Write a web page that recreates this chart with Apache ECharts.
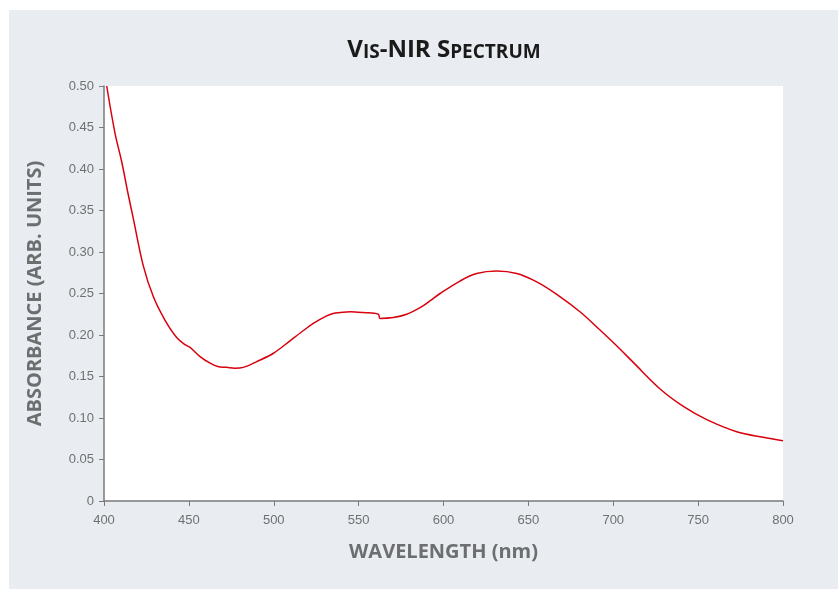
<!DOCTYPE html>
<html>
<head>
<meta charset="utf-8">
<script src="https://cdn.jsdelivr.net/npm/echarts@6/dist/echarts.min.js"></script>
<style>
  html, body { margin: 0; padding: 0; background: #ffffff; }
  #chart { width: 838px; height: 589px; }
</style>
</head>
<body>
<div id="chart"></div>
<script>
// Vis-NIR absorption spectrum (wavelength in nm, absorbance in arbitrary units)
const wavelengths = [
  401.6, 406.5, 410.4, 414.3, 417.3, 423.2, 429.1, 435.9, 442.8, 448.0,
  450.7, 456.6, 462.5, 467.0, 472.3, 477.0, 482.1, 490.0, 499.8, 509.6,
  516.0, 523.3, 531.2, 535.0, 539.0, 545.0, 552.8, 561.6, 562.6, 570.4,
  578.3, 586.2, 592.0, 598.0, 609.7, 619.5, 631.3, 643.1, 654.9, 666.7,
  680.4, 692.2, 702.0, 711.8, 727.6, 741.3, 755.1, 772.7, 788.4, 800.0
];
const absorbance = [
  0.500, 0.443, 0.409, 0.369, 0.340, 0.283, 0.246, 0.218, 0.197, 0.188,
  0.185, 0.174, 0.166, 0.162, 0.161, 0.160, 0.161, 0.168, 0.178, 0.193,
  0.203, 0.214, 0.223, 0.226, 0.227, 0.228, 0.227, 0.225, 0.220, 0.221,
  0.225, 0.233, 0.241, 0.250, 0.265, 0.274, 0.277, 0.274, 0.264, 0.249,
  0.228, 0.206, 0.187, 0.167, 0.135, 0.114, 0.098, 0.0835, 0.0767, 0.0725
];
const yTicks = ['0', '0.05', '0.10', '0.15', '0.20', '0.25', '0.30', '0.35', '0.40', '0.45', '0.50'];

const chart = echarts.init(document.getElementById('chart'), null, { renderer: 'canvas' });

const axisGray = '#7a7a7a';
const labelGray = '#6d6e70';
const nameFont = 'Open Sans';

chart.setOption({
  backgroundColor: '#ffffff',
  animation: false,
  graphic: [{
    type: 'rect',
    z: -10,
    silent: true,
    shape: { x: 9, y: 10, width: 829, height: 579 },
    style: { fill: '#e9edf1' }
  }, {
    type: 'text',
    silent: true,
    x: 444,
    y: 50,
    style: {
      text: '{c|V}{s|IS}{c|-NIR S}{s|PECTRUM}',
      align: 'center',
      verticalAlign: 'middle',
      rich: {
        c: { fontFamily: nameFont, fontWeight: 'bold', fontSize: 24, fill: '#1a1a1a', verticalAlign: 'bottom' },
        s: { fontFamily: nameFont, fontWeight: 'bold', fontSize: 19, fill: '#1a1a1a', verticalAlign: 'bottom' }
      }
    }
  }],
  grid: {
    left: 104, right: 55, top: 86, bottom: 88,
    show: true, backgroundColor: '#ffffff', borderWidth: 0
  },
  xAxis: {
    type: 'value',
    min: 400, max: 800, interval: 50,
    name: 'WAVELENGTH (nm)',
    nameLocation: 'middle',
    nameGap: 41,
    nameTextStyle: { fontFamily: nameFont, fontWeight: 'bold', fontSize: 20, color: labelGray },
    axisLine: { show: true, lineStyle: { color: axisGray, width: 1.5 } },
    axisTick: { show: true, inside: false, length: 5, lineStyle: { color: axisGray, width: 1 } },
    axisLabel: { color: '#707070', fontFamily: 'Liberation Sans', fontSize: 13, margin: 13 },
    splitLine: { show: false }
  },
  yAxis: {
    type: 'value',
    min: 0, max: 0.5, interval: 0.05,
    name: 'ABSORBANCE (ARB. UNITS)',
    nameLocation: 'middle',
    nameGap: 59,
    nameRotate: 90,
    nameTextStyle: { fontFamily: nameFont, fontWeight: 'bold', fontSize: 20, color: labelGray },
    axisLine: { show: true, lineStyle: { color: axisGray, width: 1.5 } },
    axisTick: { show: true, inside: false, length: 5, lineStyle: { color: axisGray, width: 1 } },
    axisLabel: {
      color: '#707070', fontFamily: 'Liberation Sans', fontSize: 13, margin: 10,
      formatter: function (v) { return yTicks[Math.round(v / 0.05)]; }
    },
    splitLine: { show: false }
  },
  series: [{
    type: 'line',
    data: wavelengths.map(function (w, i) { return [w, absorbance[i]]; }),
    showSymbol: false,
    smooth: 0.35,
    lineStyle: { color: '#d9000d', width: 1.5 },
    clip: true
  }]
});
</script>
</body>
</html>
